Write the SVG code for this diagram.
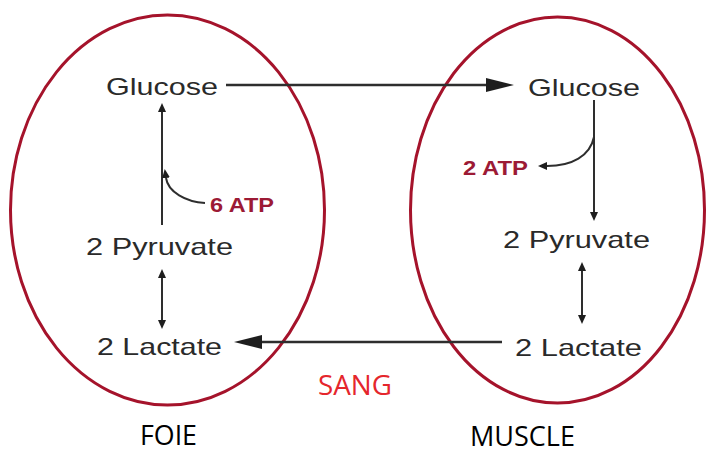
<svg xmlns="http://www.w3.org/2000/svg" width="713" height="456" viewBox="0 0 713 456">
<style>
.organ{fill:none;stroke:#a5132b;stroke-width:3}
.lbl{font-family:"Liberation Sans",Arial,sans-serif;font-size:24px;fill:#2a2a2a}
.atp{font-family:"Liberation Sans",Arial,sans-serif;font-size:20px;font-weight:bold;fill:#9c1a35}
.cap{font-family:"Open Sans","Noto Sans",sans-serif;font-size:28px;fill:#000}
.sang{font-family:"Open Sans","Noto Sans",sans-serif;font-size:28px;fill:#e5262c}
.ln{fill:none;stroke:#2e2e2e;stroke-width:2.5}
.thin{fill:none;stroke:#2e2e2e;stroke-width:2}
</style>
<defs>
<marker id="big" viewBox="0 0 28 14" refX="0" refY="7" markerWidth="28" markerHeight="14" markerUnits="userSpaceOnUse" orient="auto">
<path d="M0,0 L28,7 L0,14 z" fill="#1e1e1e"/>
</marker>
<marker id="sm" viewBox="0 0 9 8" refX="0" refY="4" markerWidth="9" markerHeight="8" markerUnits="userSpaceOnUse" orient="auto-start-reverse">
<path d="M0,0 L9,4 L0,8 z" fill="#1e1e1e"/>
</marker>
</defs>
<g id="foie">
<ellipse class="organ" cx="167.5" cy="210" rx="157" ry="195"/>
<text class="cap" x="140" y="445" textLength="57" lengthAdjust="spacingAndGlyphs">FOIE</text>
</g>
<g id="muscle">
<ellipse class="organ" cx="557.5" cy="210" rx="147" ry="193"/>
<text class="cap" x="470" y="446" textLength="105" lengthAdjust="spacingAndGlyphs">MUSCLE</text>
</g>
<g id="sang">
<text class="sang" x="318" y="395" textLength="74" lengthAdjust="spacingAndGlyphs">SANG</text>
</g>
<g id="glucose-foie"><text class="lbl" x="106" y="95" textLength="112" lengthAdjust="spacingAndGlyphs">Glucose</text></g>
<g id="pyruvate-foie"><text class="lbl" x="86" y="255" textLength="147" lengthAdjust="spacingAndGlyphs">2 Pyruvate</text></g>
<g id="lactate-foie"><text class="lbl" x="97" y="355" textLength="125" lengthAdjust="spacingAndGlyphs">2 Lactate</text></g>
<g id="atp-foie"><text class="atp" x="210" y="212" textLength="64" lengthAdjust="spacingAndGlyphs">6 ATP</text></g>
<g id="glucose-muscle"><text class="lbl" x="528" y="96" textLength="112" lengthAdjust="spacingAndGlyphs">Glucose</text></g>
<g id="pyruvate-muscle"><text class="lbl" x="503" y="248" textLength="147" lengthAdjust="spacingAndGlyphs">2 Pyruvate</text></g>
<g id="lactate-muscle"><text class="lbl" x="515" y="356" textLength="127" lengthAdjust="spacingAndGlyphs">2 Lactate</text></g>
<g id="atp-muscle"><text class="atp" x="463" y="175" textLength="65" lengthAdjust="spacingAndGlyphs">2 ATP</text></g>
<g id="connectors">
<line class="ln" x1="226" y1="85" x2="486" y2="85" marker-end="url(#big)"/>
<line class="ln" x1="502" y1="342" x2="262" y2="342" marker-end="url(#big)"/>
<line class="thin" x1="162" y1="225" x2="162" y2="112" marker-end="url(#sm)"/>
<path class="thin" d="M205,203 C186,202 168,192 166,178" marker-end="url(#sm)"/>
<line class="thin" x1="162" y1="278" x2="162" y2="320" marker-start="url(#sm)" marker-end="url(#sm)"/>
<line class="thin" x1="594" y1="100" x2="594" y2="212" marker-end="url(#sm)"/>
<path class="thin" d="M594,137 C590,156 572,166 547,166" marker-end="url(#sm)"/>
<line class="thin" x1="582" y1="271" x2="582" y2="315" marker-start="url(#sm)" marker-end="url(#sm)"/>
</g>
</svg>
